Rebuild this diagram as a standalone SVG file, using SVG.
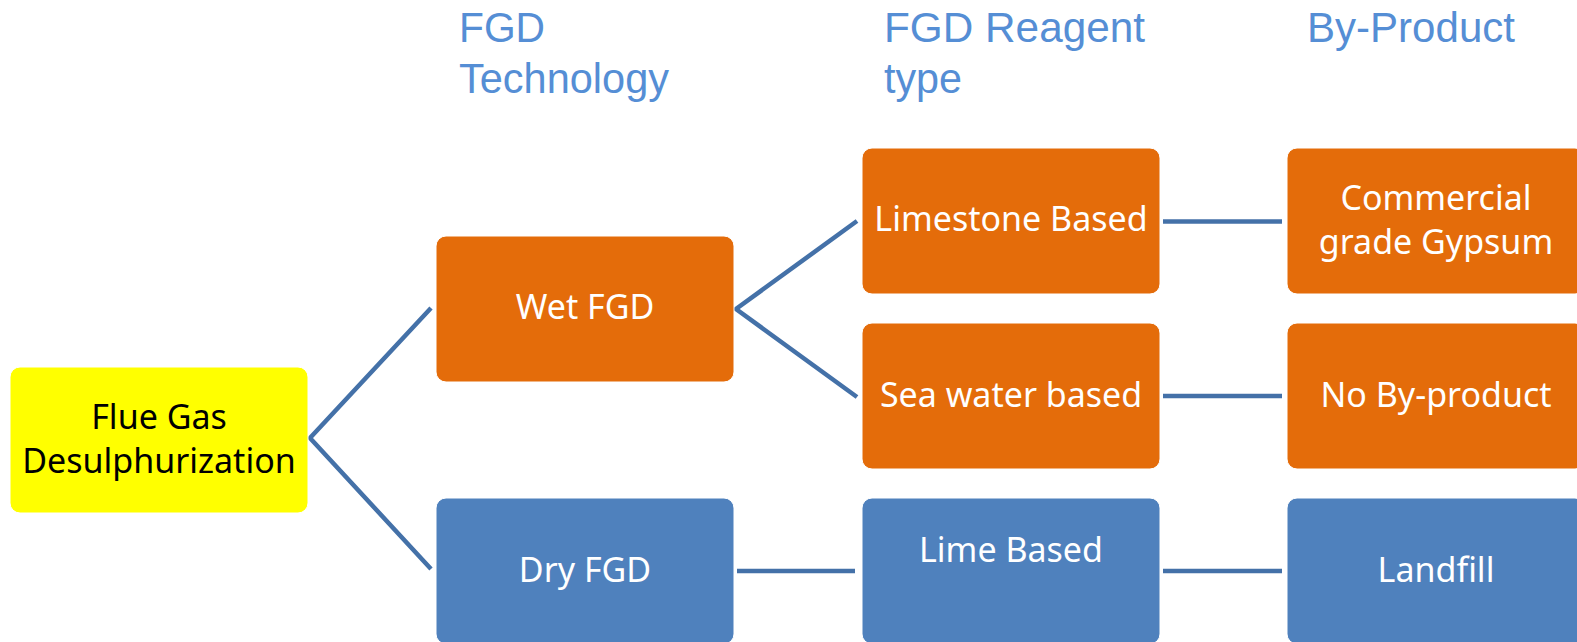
<svg xmlns="http://www.w3.org/2000/svg" width="1577" height="642" viewBox="0 0 1577 642">
<style>
.hdr{font-family:"Liberation Sans",Arial,sans-serif;font-size:43px;fill:#558ED5}
.box{stroke:#ffffff;stroke-width:1}
.orange{fill:#E46C0A}
.blue{fill:#4F81BD}
.yellow{fill:#FFFF00}
.lbl{font-family:"Noto Sans","Open Sans",sans-serif;font-size:34px;fill:#ffffff;text-anchor:middle}
.dark{fill:#000000}
.conn{stroke:#4471A8;stroke-width:4.5;fill:none}
</style>
<rect width="1577" height="642" fill="#ffffff"/>
<g id="headers">
<text class="hdr" x="459" y="42" textLength="86" lengthAdjust="spacingAndGlyphs">FGD</text>
<text class="hdr" x="459" y="93" textLength="210" lengthAdjust="spacingAndGlyphs">Technology</text>
<text class="hdr" x="884" y="42" textLength="261" lengthAdjust="spacingAndGlyphs">FGD Reagent</text>
<text class="hdr" x="884" y="93" textLength="78" lengthAdjust="spacingAndGlyphs">type</text>
<text class="hdr" x="1307" y="42" textLength="208" lengthAdjust="spacingAndGlyphs">By-Product</text>
</g>
<g id="connectors">
<polyline class="conn" points="431,308 310,438 431,569"/>
<polyline class="conn" points="857,221 736,309 857,397"/>
<line class="conn" x1="1163" y1="221.5" x2="1282" y2="221.5"/>
<line class="conn" x1="1163" y1="396" x2="1282" y2="396"/>
<line class="conn" x1="737" y1="571" x2="855" y2="571"/>
<line class="conn" x1="1163" y1="571" x2="1282" y2="571"/>
</g>
<g id="n-fgd">
<rect class="box yellow" x="10" y="367" width="298" height="146" rx="10"/>
<text class="lbl dark" x="159" y="429">Flue Gas</text>
<text class="lbl dark" x="159" y="473">Desulphurization</text>
</g>
<g id="n-wet">
<rect class="box orange" x="436" y="236" width="298" height="146" rx="10"/>
<text class="lbl" x="585" y="319">Wet FGD</text>
</g>
<g id="n-dry">
<rect class="box blue" x="436" y="498" width="298" height="146" rx="10"/>
<text class="lbl" x="585" y="582">Dry FGD</text>
</g>
<g id="n-limestone">
<rect class="box orange" x="862" y="148" width="298" height="146" rx="10"/>
<text class="lbl" x="1011" y="231">Limestone Based</text>
</g>
<g id="n-seawater">
<rect class="box orange" x="862" y="323" width="298" height="146" rx="10"/>
<text class="lbl" x="1011" y="407">Sea water based</text>
</g>
<g id="n-lime">
<rect class="box blue" x="862" y="498" width="298" height="146" rx="10"/>
<text class="lbl" x="1011" y="562">Lime Based</text>
</g>
<g id="n-gypsum">
<rect class="box orange" x="1287" y="148" width="298" height="146" rx="10"/>
<text class="lbl" x="1436" y="210">Commercial</text>
<text class="lbl" x="1436" y="254">grade Gypsum</text>
</g>
<g id="n-noby">
<rect class="box orange" x="1287" y="323" width="298" height="146" rx="10"/>
<text class="lbl" x="1436" y="407">No By-product</text>
</g>
<g id="n-landfill">
<rect class="box blue" x="1287" y="498" width="298" height="146" rx="10"/>
<text class="lbl" x="1436" y="582">Landfill</text>
</g>
</svg>
